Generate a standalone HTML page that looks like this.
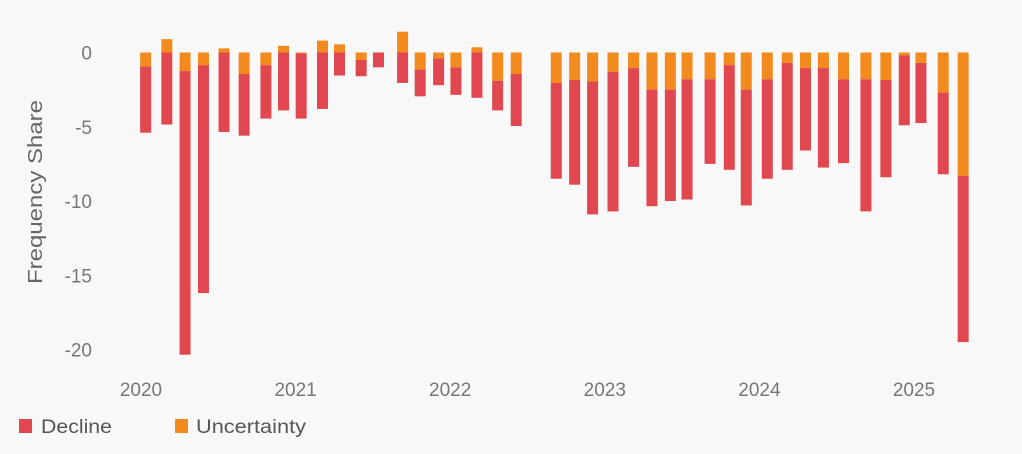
<!DOCTYPE html>
<html><head><meta charset="utf-8"><style>
html,body{margin:0;padding:0;background:#f8f8f8;}
svg{display:block;font-family:"Liberation Sans","DejaVu Sans",sans-serif;}
</style></head><body>
<svg id="chart" width="1022" height="454">
<rect x="0" y="0" width="1022" height="454" fill="#f8f8f8"/>
<g id="yaxis"></g>
<g id="xaxis"></g>
<g id="bars"></g>
<text x="42" y="192" transform="rotate(-90 42 192)" text-anchor="middle" font-size="20" textLength="184" lengthAdjust="spacingAndGlyphs" fill="#666">Frequency Share</text>
<g>
<g><rect x="19" y="419" width="13" height="14" fill="#e0474f"/><text x="41" y="433" font-size="19" textLength="71" lengthAdjust="spacingAndGlyphs" fill="#555">Decline</text></g>
<g><rect x="175" y="419" width="13" height="14" fill="#f28a1e"/><text x="196" y="433" font-size="19" textLength="110" lengthAdjust="spacingAndGlyphs" fill="#555">Uncertainty</text></g>
</g>
</svg>
<script>
const dates=[2020.03,2020.167,2020.285,2020.404,2020.537,2020.667,2020.808,2020.922,2021.036,2021.174,2021.284,2021.424,2021.536,2021.692,2021.806,2021.925,2022.037,2022.173,2022.307,2022.427,2022.686,2022.805,2022.921,2023.053,2023.186,2023.305,2023.424,2023.532,2023.681,2023.805,2023.915,2024.051,2024.18,2024.298,2024.414,2024.544,2024.689,2024.818,2024.937,2025.045,2025.189,2025.318];
const uncertainty=[-0.95,0.9,-1.25,-0.85,0.28,-1.45,-0.85,0.45,-0.05,0.8,0.55,-0.5,0,1.4,-1.15,-0.4,-1.0,0.35,-1.9,-1.45,-2.05,-1.85,-1.95,-1.3,-1.05,-2.5,-2.5,-1.8,-1.8,-0.85,-2.5,-1.8,-0.7,-1.05,-1.05,-1.8,-1.8,-1.85,-0.2,-0.7,-2.7,-8.3];
const decline=[-4.45,-4.85,-19.1,-15.35,-5.35,-4.15,-3.6,-3.9,-4.4,-3.8,-1.55,-1.1,-1.0,-2.05,-1.8,-1.8,-1.85,-3.05,-2.0,-3.5,-6.45,-7.05,-8.95,-9.4,-6.65,-7.85,-7.5,-8.1,-5.7,-7.05,-7.8,-6.7,-7.2,-5.55,-6.7,-5.65,-8.9,-6.55,-4.7,-4.05,-5.5,-11.2];
const yTicks=[0,-5,-10,-15,-20];
const xTicks=[2020,2021,2022,2023,2024,2025];
const NS="http://www.w3.org/2000/svg";
function xs(d){return 141+(d-2020)*154.6;}
function ys(v){return 52.5-v*14.85;}
const bw=11;
const yg=document.getElementById('yaxis'),xg=document.getElementById('xaxis'),bg=document.getElementById('bars');
function mk(t,a,p){const e=document.createElementNS(NS,t);for(const k in a)e.setAttribute(k,a[k]);p.appendChild(e);return e;}
yTicks.forEach(v=>{const t=mk('text',{x:92,y:ys(v)+7,'text-anchor':'end','font-size':19,fill:'#777'},yg);t.textContent=v;

});
xTicks.forEach(v=>{const t=mk('text',{x:xs(v),y:396,'text-anchor':'middle','font-size':19,fill:'#777'},xg);t.textContent=v;

});
function seg(a,b,col,name){const y1=Math.min(ys(a),ys(b)),y2=Math.max(ys(a),ys(b));return [y1,y2-y1,col,name];}
dates.forEach((d,i)=>{
 const u=uncertainty[i],dc=decline[i];let s=[];
 if(u>=0){s.push(seg(0,u,'#f28a1e','bar-uncertainty'));s.push(seg(0,dc,'#e0474f','bar-decline'));}
 else{s.push(seg(0,u,'#f28a1e','bar-uncertainty'));s.push(seg(u,u+dc,'#e0474f','bar-decline'));}
 s.forEach(q=>{if(q[1]<=0)return;const r=mk('rect',{x:xs(d)-bw/2,y:q[0],width:bw,height:q[1],fill:q[2]},bg);
 
 });
});
</script>
</body></html>
